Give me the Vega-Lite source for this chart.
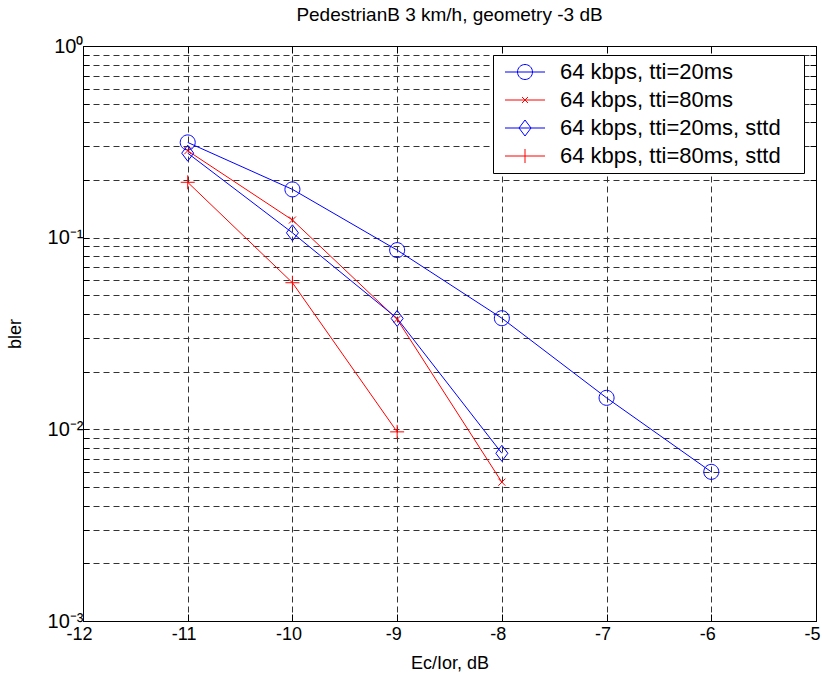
{
  "$schema": "https://vega.github.io/schema/vega-lite/v6.json",
  "width": 733,
  "height": 575,
  "autosize": {"type": "none"},
  "padding": {"left": 83, "top": 46, "right": 6, "bottom": 59},
  "background": "white",
  "title": {"text": "PedestrianB 3 km/h, geometry -3 dB", "font": "Liberation Sans", "fontSize": 19, "fontWeight": "normal", "color": "black", "anchor": "middle", "baseline": "alphabetic", "offset": 21, "dy": 25},
  "config": {
    "view": {"stroke": "black", "strokeWidth": 1},
    "axis": {"domainColor": "black", "tickColor": "black", "labelColor": "black", "titleColor": "black", "labelFont": "Liberation Sans", "titleFont": "Liberation Sans", "titleFontWeight": "normal", "labelOverlap": false, "labelBound": false, "labelFlush": false}
  },
  "data": {"values": [
    {"series": "64 kbps, tti=20ms", "x": -11, "bler": 0.314},
    {"series": "64 kbps, tti=20ms", "x": -10, "bler": 0.1786},
    {"series": "64 kbps, tti=20ms", "x": -9, "bler": 0.0861},
    {"series": "64 kbps, tti=20ms", "x": -8, "bler": 0.038},
    {"series": "64 kbps, tti=20ms", "x": -7, "bler": 0.0146},
    {"series": "64 kbps, tti=20ms", "x": -6, "bler": 0.006},
    {"series": "64 kbps, tti=80ms", "x": -11, "bler": 0.284},
    {"series": "64 kbps, tti=80ms", "x": -10, "bler": 0.1236},
    {"series": "64 kbps, tti=80ms", "x": -9, "bler": 0.0375},
    {"series": "64 kbps, tti=80ms", "x": -8, "bler": 0.0053},
    {"series": "64 kbps, tti=20ms, sttd", "x": -11, "bler": 0.276},
    {"series": "64 kbps, tti=20ms, sttd", "x": -10, "bler": 0.106},
    {"series": "64 kbps, tti=20ms, sttd", "x": -9, "bler": 0.0379},
    {"series": "64 kbps, tti=20ms, sttd", "x": -8, "bler": 0.0075},
    {"series": "64 kbps, tti=80ms, sttd", "x": -11, "bler": 0.1945},
    {"series": "64 kbps, tti=80ms, sttd", "x": -10, "bler": 0.0582},
    {"series": "64 kbps, tti=80ms, sttd", "x": -9, "bler": 0.0097}
  ]},
  "layer": [
    {
      "mark": {"type": "line", "strokeWidth": 1, "clip": true},
      "encoding": {
        "x": {"field": "x", "type": "quantitative", "scale": {"domain": [-12, -5], "nice": false, "zero": false},
          "axis": {"orient": "bottom", "values": [-12, -11, -10, -9, -8, -7, -6, -5], "labelExpr": "'' + datum.value", "labelFontSize": 18, "labelPadding": 11, "labelOffset": -4, "tickSize": -7, "grid": true, "gridDash": [6, 4], "gridColor": "#333333", "gridWidth": 1, "title": "Ec/Ior, dB", "titleFontSize": 18, "titlePadding": 11}},
        "y": {"field": "bler", "type": "quantitative", "scale": {"type": "log", "domain": [0.001, 1], "nice": false},
          "axis": {"orient": "left", "values": [0.001, 0.002, 0.003, 0.004, 0.005, 0.006, 0.007, 0.008, 0.009, 0.01, 0.02, 0.03, 0.04, 0.05, 0.06, 0.07, 0.08, 0.09, 0.1, 0.2, 0.3, 0.4, 0.5, 0.6, 0.7, 0.8, 0.9, 1],
            "labelExpr": "datum.value == 1 ? '10⁰' : datum.value == 0.1 ? '10⁻¹' : datum.value == 0.01 ? '10⁻²' : datum.value == 0.001 ? '10⁻³' : ''",
            "labelFontSize": 20, "labelPadding": 6, "tickSize": -6, "grid": true, "gridDash": [6, 4], "gridColor": "#333333", "gridWidth": 1, "title": "bler", "titleFontSize": 18, "titlePadding": 23}},
        "color": {"field": "series", "type": "nominal",
          "scale": {"domain": ["64 kbps, tti=20ms", "64 kbps, tti=80ms", "64 kbps, tti=20ms, sttd", "64 kbps, tti=80ms, sttd"], "range": ["#0000ff", "#ff0000", "#0000ff", "#ff0000"]},
          "legend": {"title": "\u00a0", "titleOrient": "right", "titlePadding": 17, "titleFontSize": 8, "orient": "none", "legendX": 410, "legendY": 9, "strokeColor": "black", "fillColor": "white", "padding": 6, "cornerRadius": 0,
            "labelFont": "Liberation Sans", "labelFontSize": 22, "labelColor": "black", "labelLimit": 600,
            "symbolSize": 400, "symbolStrokeWidth": 1, "symbolOffset": 15, "labelOffset": 24, "rowPadding": 6,
            "encode": {"symbols": {"update": {
              "shape": {"signal": "datum.value === '64 kbps, tti=20ms' ? 'M-2,0L2,0M-0.75,0A0.75,0.75 0 1,1 0.75,0A0.75,0.75 0 1,1 -0.75,0' : datum.value === '64 kbps, tti=80ms' ? 'M-2,0L2,0M-0.3,-0.3L0.3,0.3M-0.3,0.3L0.3,-0.3' : datum.value === '64 kbps, tti=20ms, sttd' ? 'M-2,0L2,0M0,-0.8L0.6,0L0,0.8L-0.6,0Z' : 'M-2,0L2,0M0,-0.7L0,0.7'"},
              "fill": {"value": "transparent"},
              "strokeWidth": {"value": 1}
            }}}}}
      }
    },
    {
      "transform": [{"filter": "datum.series == '64 kbps, tti=20ms'"}],
      "mark": {"type": "point", "filled": false, "strokeWidth": 1, "size": 100, "opacity": 1, "clip": true, "color": "#0000ff", "shape": "M-1.5,0A1.5,1.5 0 1,1 1.5,0A1.5,1.5 0 1,1 -1.5,0Z"},
      "encoding": {
        "x": {"field": "x", "type": "quantitative",
          "axis": {"orient": "top", "values": [-12, -11, -10, -9, -8, -7, -6, -5], "labels": false, "tickSize": -7, "grid": false, "title": null}},
        "y": {"field": "bler", "type": "quantitative",
          "axis": {"orient": "right", "values": [0.001, 0.002, 0.003, 0.004, 0.005, 0.006, 0.007, 0.008, 0.009, 0.01, 0.02, 0.03, 0.04, 0.05, 0.06, 0.07, 0.08, 0.09, 0.1, 0.2, 0.3, 0.4, 0.5, 0.6, 0.7, 0.8, 0.9, 1], "labels": false, "tickSize": -6, "grid": false, "title": null}}
      }
    },
    {
      "transform": [{"filter": "datum.series == '64 kbps, tti=80ms'"}],
      "mark": {"type": "point", "filled": false, "strokeWidth": 1, "size": 100, "opacity": 1, "clip": true, "color": "#ff0000", "shape": "M-0.7,-0.7L0.7,0.7M-0.7,0.7L0.7,-0.7"},
      "encoding": {
        "x": {"field": "x", "type": "quantitative", "axis": null},
        "y": {"field": "bler", "type": "quantitative", "axis": null}
      }
    },
    {
      "transform": [{"filter": "datum.series == '64 kbps, tti=20ms, sttd'"}],
      "mark": {"type": "point", "filled": false, "strokeWidth": 1, "size": 100, "opacity": 1, "clip": true, "color": "#0000ff", "shape": "M0,-1.6L1.2,0L0,1.6L-1.2,0Z"},
      "encoding": {
        "x": {"field": "x", "type": "quantitative", "axis": null},
        "y": {"field": "bler", "type": "quantitative", "axis": null}
      }
    },
    {
      "transform": [{"filter": "datum.series == '64 kbps, tti=80ms, sttd'"}],
      "mark": {"type": "point", "filled": false, "strokeWidth": 1, "size": 100, "opacity": 1, "clip": true, "color": "#ff0000", "shape": "M-1.4,0L1.4,0M0,-1.4L0,1.4"},
      "encoding": {
        "x": {"field": "x", "type": "quantitative", "axis": null},
        "y": {"field": "bler", "type": "quantitative", "axis": null}
      }
    }
  ],
  "resolve": {"axis": {"x": "independent", "y": "independent"}}
}
